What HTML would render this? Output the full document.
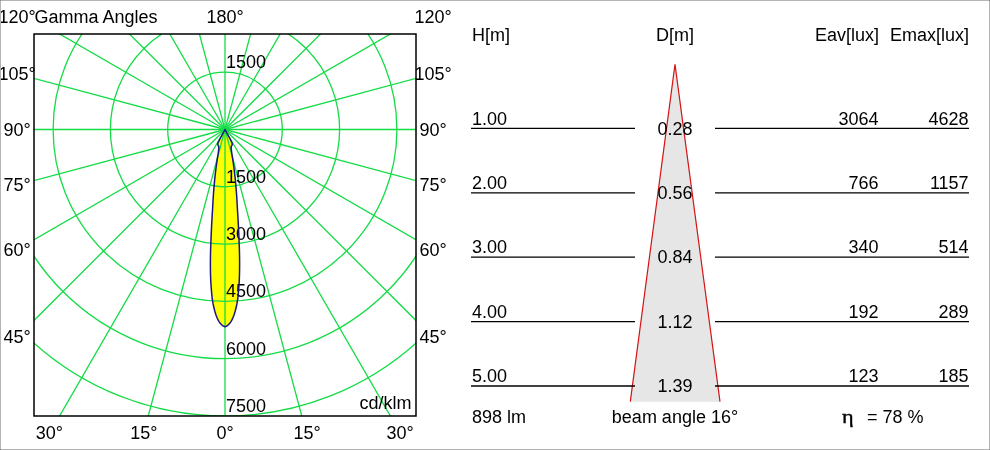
<!DOCTYPE html>
<html><head><meta charset="utf-8"><style>
html,body{margin:0;padding:0;background:#fff;}
#w{position:relative;width:990px;height:450px;overflow:hidden;}
svg{position:absolute;left:0;top:0;will-change:transform;}
text{fill:#000;}
</style></head><body><div id="w"><svg width="990" height="450" viewBox="0 0 990 450">
<clipPath id="c"><rect x="34" y="34" width="382" height="382"/></clipPath>
<path d="M225.00,129.50 L219.40,140.00 L218.61,141.67 L217.99,143.05 L217.86,143.51 L217.82,143.81 L217.79,144.08 L217.79,144.33 L217.80,144.54 L217.82,144.73 L217.86,144.90 L217.91,145.05 L217.97,145.18 L218.03,145.30 L218.10,145.41 L218.17,145.52 L218.24,145.62 L218.32,145.72 L218.39,145.83 L218.47,145.94 L218.54,146.06 L218.60,146.20 L218.66,146.35 L218.72,146.52 L218.77,146.72 L218.81,146.95 L218.84,147.20 L218.86,147.50 L218.85,147.90 L218.82,148.39 L218.76,148.96 L218.69,149.62 L218.60,150.35 L218.51,151.15 L218.40,152.01 L218.26,153.03 L218.05,154.32 L217.81,155.81 L217.54,157.48 L217.26,159.28 L216.97,161.19 L216.68,163.24 L216.37,165.43 L216.06,167.77 L215.74,170.26 L215.43,172.91 L215.11,175.71 L214.79,178.67 L214.48,181.81 L214.18,185.11 L213.88,188.58 L213.59,192.23 L213.32,196.06 L213.07,200.07 L212.84,204.27 L212.58,208.99 L212.23,214.67 L211.85,221.05 L211.50,227.84 L211.17,235.05 L210.83,243.16 L210.55,251.60 L210.40,259.72 L210.40,267.46 L210.52,274.95 L210.79,281.78 L211.22,287.82 L211.72,293.82 L212.33,299.48 L213.08,303.96 L213.93,307.82 L214.85,311.22 L215.82,314.42 L216.84,317.29 L217.92,319.67 L219.04,321.58 L220.19,323.25 L221.37,324.58 L222.57,325.53 L223.78,326.25 L225.00,326.70 L226.22,326.25 L227.43,325.53 L228.63,324.58 L229.81,323.25 L230.96,321.58 L232.08,319.67 L233.16,317.29 L234.18,314.42 L235.15,311.22 L236.07,307.82 L236.92,303.96 L237.67,299.48 L238.28,293.82 L238.78,287.82 L239.21,281.78 L239.48,274.95 L239.60,267.46 L239.60,259.72 L239.45,251.60 L239.17,243.16 L238.83,235.05 L238.50,227.84 L238.15,221.05 L237.77,214.67 L237.42,208.99 L237.16,204.27 L236.93,200.07 L236.68,196.06 L236.41,192.23 L236.12,188.58 L235.82,185.11 L235.52,181.81 L235.21,178.67 L234.89,175.71 L234.57,172.91 L234.26,170.26 L233.94,167.77 L233.63,165.43 L233.32,163.24 L233.03,161.19 L232.74,159.28 L232.46,157.48 L232.19,155.81 L231.95,154.32 L231.74,153.03 L231.60,152.01 L231.49,151.15 L231.40,150.35 L231.31,149.62 L231.24,148.96 L231.18,148.39 L231.15,147.90 L231.14,147.50 L231.16,147.20 L231.19,146.95 L231.23,146.72 L231.28,146.52 L231.34,146.35 L231.40,146.20 L231.46,146.06 L231.53,145.94 L231.61,145.83 L231.68,145.72 L231.76,145.62 L231.83,145.52 L231.90,145.41 L231.97,145.30 L232.03,145.18 L232.09,145.05 L232.14,144.90 L232.18,144.73 L232.20,144.54 L232.21,144.33 L232.21,144.08 L232.18,143.81 L232.14,143.51 L232.01,143.05 L231.39,141.67 L230.60,140.00 Z" fill="#ffff00" stroke="none"/>
<g clip-path="url(#c)" stroke="#14dc46" stroke-width="1.3" fill="none">
<circle cx="225.0" cy="129.5" r="57.30"/>
<circle cx="225.0" cy="129.5" r="114.60"/>
<circle cx="225.0" cy="129.5" r="171.90"/>
<circle cx="225.0" cy="129.5" r="229.20"/>
<circle cx="225.0" cy="129.5" r="286.50"/>
<line x1="225.0" y1="129.5" x2="225.00" y2="729.50"/>
<line x1="225.0" y1="129.5" x2="380.29" y2="709.06"/>
<line x1="225.0" y1="129.5" x2="525.00" y2="649.12"/>
<line x1="225.0" y1="129.5" x2="649.26" y2="553.76"/>
<line x1="225.0" y1="129.5" x2="744.62" y2="429.50"/>
<line x1="225.0" y1="129.5" x2="804.56" y2="284.79"/>
<line x1="225.0" y1="129.5" x2="825.00" y2="129.50"/>
<line x1="225.0" y1="129.5" x2="804.56" y2="-25.79"/>
<line x1="225.0" y1="129.5" x2="744.62" y2="-170.50"/>
<line x1="225.0" y1="129.5" x2="649.26" y2="-294.76"/>
<line x1="225.0" y1="129.5" x2="525.00" y2="-390.12"/>
<line x1="225.0" y1="129.5" x2="380.29" y2="-450.06"/>
<line x1="225.0" y1="129.5" x2="225.00" y2="-470.50"/>
<line x1="225.0" y1="129.5" x2="69.71" y2="-450.06"/>
<line x1="225.0" y1="129.5" x2="-75.00" y2="-390.12"/>
<line x1="225.0" y1="129.5" x2="-199.26" y2="-294.76"/>
<line x1="225.0" y1="129.5" x2="-294.62" y2="-170.50"/>
<line x1="225.0" y1="129.5" x2="-354.56" y2="-25.79"/>
<line x1="225.0" y1="129.5" x2="-375.00" y2="129.50"/>
<line x1="225.0" y1="129.5" x2="-354.56" y2="284.79"/>
<line x1="225.0" y1="129.5" x2="-294.62" y2="429.50"/>
<line x1="225.0" y1="129.5" x2="-199.26" y2="553.76"/>
<line x1="225.0" y1="129.5" x2="-75.00" y2="649.12"/>
<line x1="225.0" y1="129.5" x2="69.71" y2="709.06"/>
</g>
<rect x="34" y="34" width="382" height="382" fill="none" stroke="#000" stroke-width="1.5"/>
<text x="17" y="23" text-anchor="middle" font-size="18" font-family='"Liberation Sans", sans-serif' >120°</text>
<text x="34.4" y="23" text-anchor="start" font-size="18" font-family='"Liberation Sans", sans-serif' >Gamma Angles</text>
<text x="225" y="23" text-anchor="middle" font-size="18" font-family='"Liberation Sans", sans-serif' >180°</text>
<text x="433" y="23" text-anchor="middle" font-size="18" font-family='"Liberation Sans", sans-serif' >120°</text>
<text x="17" y="80" text-anchor="middle" font-size="18" font-family='"Liberation Sans", sans-serif' >105°</text>
<text x="433" y="80" text-anchor="middle" font-size="18" font-family='"Liberation Sans", sans-serif' >105°</text>
<text x="17" y="135.5" text-anchor="middle" font-size="18" font-family='"Liberation Sans", sans-serif' >90°</text>
<text x="433" y="135.5" text-anchor="middle" font-size="18" font-family='"Liberation Sans", sans-serif' >90°</text>
<text x="17" y="191" text-anchor="middle" font-size="18" font-family='"Liberation Sans", sans-serif' >75°</text>
<text x="433" y="191" text-anchor="middle" font-size="18" font-family='"Liberation Sans", sans-serif' >75°</text>
<text x="17" y="255.5" text-anchor="middle" font-size="18" font-family='"Liberation Sans", sans-serif' >60°</text>
<text x="433" y="255.5" text-anchor="middle" font-size="18" font-family='"Liberation Sans", sans-serif' >60°</text>
<text x="17" y="343.3" text-anchor="middle" font-size="18" font-family='"Liberation Sans", sans-serif' >45°</text>
<text x="433" y="343.3" text-anchor="middle" font-size="18" font-family='"Liberation Sans", sans-serif' >45°</text>
<text x="49.3" y="439" text-anchor="middle" font-size="18" font-family='"Liberation Sans", sans-serif' >30°</text>
<text x="143.8" y="439" text-anchor="middle" font-size="18" font-family='"Liberation Sans", sans-serif' >15°</text>
<text x="225" y="439" text-anchor="middle" font-size="18" font-family='"Liberation Sans", sans-serif' >0°</text>
<text x="307" y="439" text-anchor="middle" font-size="18" font-family='"Liberation Sans", sans-serif' >15°</text>
<text x="400" y="439" text-anchor="middle" font-size="18" font-family='"Liberation Sans", sans-serif' >30°</text>
<text x="226" y="68" text-anchor="start" font-size="18" font-family='"Liberation Sans", sans-serif' >1500</text>
<text x="226" y="182.6" text-anchor="start" font-size="18" font-family='"Liberation Sans", sans-serif' >1500</text>
<text x="226" y="239.8" text-anchor="start" font-size="18" font-family='"Liberation Sans", sans-serif' >3000</text>
<text x="226" y="297" text-anchor="start" font-size="18" font-family='"Liberation Sans", sans-serif' >4500</text>
<text x="226" y="355" text-anchor="start" font-size="18" font-family='"Liberation Sans", sans-serif' >6000</text>
<text x="226" y="412" text-anchor="start" font-size="18" font-family='"Liberation Sans", sans-serif' >7500</text>
<text x="411.6" y="408.7" text-anchor="end" font-size="18" font-family='"Liberation Sans", sans-serif' >cd/klm</text>
<path d="M225.00,129.50 L219.40,140.00 L218.61,141.67 L217.99,143.05 L217.86,143.51 L217.82,143.81 L217.79,144.08 L217.79,144.33 L217.80,144.54 L217.82,144.73 L217.86,144.90 L217.91,145.05 L217.97,145.18 L218.03,145.30 L218.10,145.41 L218.17,145.52 L218.24,145.62 L218.32,145.72 L218.39,145.83 L218.47,145.94 L218.54,146.06 L218.60,146.20 L218.66,146.35 L218.72,146.52 L218.77,146.72 L218.81,146.95 L218.84,147.20 L218.86,147.50 L218.85,147.90 L218.82,148.39 L218.76,148.96 L218.69,149.62 L218.60,150.35 L218.51,151.15 L218.40,152.01 L218.26,153.03 L218.05,154.32 L217.81,155.81 L217.54,157.48 L217.26,159.28 L216.97,161.19 L216.68,163.24 L216.37,165.43 L216.06,167.77 L215.74,170.26 L215.43,172.91 L215.11,175.71 L214.79,178.67 L214.48,181.81 L214.18,185.11 L213.88,188.58 L213.59,192.23 L213.32,196.06 L213.07,200.07 L212.84,204.27 L212.58,208.99 L212.23,214.67 L211.85,221.05 L211.50,227.84 L211.17,235.05 L210.83,243.16 L210.55,251.60 L210.40,259.72 L210.40,267.46 L210.52,274.95 L210.79,281.78 L211.22,287.82 L211.72,293.82 L212.33,299.48 L213.08,303.96 L213.93,307.82 L214.85,311.22 L215.82,314.42 L216.84,317.29 L217.92,319.67 L219.04,321.58 L220.19,323.25 L221.37,324.58 L222.57,325.53 L223.78,326.25 L225.00,326.70 L226.22,326.25 L227.43,325.53 L228.63,324.58 L229.81,323.25 L230.96,321.58 L232.08,319.67 L233.16,317.29 L234.18,314.42 L235.15,311.22 L236.07,307.82 L236.92,303.96 L237.67,299.48 L238.28,293.82 L238.78,287.82 L239.21,281.78 L239.48,274.95 L239.60,267.46 L239.60,259.72 L239.45,251.60 L239.17,243.16 L238.83,235.05 L238.50,227.84 L238.15,221.05 L237.77,214.67 L237.42,208.99 L237.16,204.27 L236.93,200.07 L236.68,196.06 L236.41,192.23 L236.12,188.58 L235.82,185.11 L235.52,181.81 L235.21,178.67 L234.89,175.71 L234.57,172.91 L234.26,170.26 L233.94,167.77 L233.63,165.43 L233.32,163.24 L233.03,161.19 L232.74,159.28 L232.46,157.48 L232.19,155.81 L231.95,154.32 L231.74,153.03 L231.60,152.01 L231.49,151.15 L231.40,150.35 L231.31,149.62 L231.24,148.96 L231.18,148.39 L231.15,147.90 L231.14,147.50 L231.16,147.20 L231.19,146.95 L231.23,146.72 L231.28,146.52 L231.34,146.35 L231.40,146.20 L231.46,146.06 L231.53,145.94 L231.61,145.83 L231.68,145.72 L231.76,145.62 L231.83,145.52 L231.90,145.41 L231.97,145.30 L232.03,145.18 L232.09,145.05 L232.14,144.90 L232.18,144.73 L232.20,144.54 L232.21,144.33 L232.21,144.08 L232.18,143.81 L232.14,143.51 L232.01,143.05 L231.39,141.67 L230.60,140.00 Z" fill="none" stroke="#1c1480" stroke-width="1.5" stroke-linejoin="round"/>
<text x="472" y="40.7" text-anchor="start" font-size="18" font-family='"Liberation Sans", sans-serif' >H[m]</text>
<text x="675" y="40.7" text-anchor="middle" font-size="18" font-family='"Liberation Sans", sans-serif' >D[m]</text>
<text x="879" y="40.7" text-anchor="end" font-size="18" font-family='"Liberation Sans", sans-serif' >Eav[lux]</text>
<text x="969" y="40.7" text-anchor="end" font-size="18" font-family='"Liberation Sans", sans-serif' >Emax[lux]</text>
<path d="M630.3,401.7 L675,64.3 L720,401.7 Z" fill="#e6e6e6" stroke="none"/>
<path d="M630.3,401.7 L675,64.3 L720,401.7" fill="none" stroke="#d41414" stroke-width="1.2"/>
<line x1="471" y1="128.40" x2="635" y2="128.40" stroke="#000" stroke-width="1.3"/>
<line x1="715" y1="128.40" x2="969" y2="128.40" stroke="#000" stroke-width="1.3"/>
<text x="472" y="124.50" text-anchor="start" font-size="18" font-family='"Liberation Sans", sans-serif' >1.00</text>
<text x="675" y="134.50" text-anchor="middle" font-size="18" font-family='"Liberation Sans", sans-serif' >0.28</text>
<text x="878.6" y="124.50" text-anchor="end" font-size="18" font-family='"Liberation Sans", sans-serif' >3064</text>
<text x="968.6" y="124.50" text-anchor="end" font-size="18" font-family='"Liberation Sans", sans-serif' >4628</text>
<line x1="471" y1="192.80" x2="635" y2="192.80" stroke="#000" stroke-width="1.3"/>
<line x1="715" y1="192.80" x2="969" y2="192.80" stroke="#000" stroke-width="1.3"/>
<text x="472" y="188.90" text-anchor="start" font-size="18" font-family='"Liberation Sans", sans-serif' >2.00</text>
<text x="675" y="198.90" text-anchor="middle" font-size="18" font-family='"Liberation Sans", sans-serif' >0.56</text>
<text x="878.6" y="188.90" text-anchor="end" font-size="18" font-family='"Liberation Sans", sans-serif' >766</text>
<text x="968.6" y="188.90" text-anchor="end" font-size="18" font-family='"Liberation Sans", sans-serif' >1157</text>
<line x1="471" y1="257.20" x2="635" y2="257.20" stroke="#000" stroke-width="1.3"/>
<line x1="715" y1="257.20" x2="969" y2="257.20" stroke="#000" stroke-width="1.3"/>
<text x="472" y="253.30" text-anchor="start" font-size="18" font-family='"Liberation Sans", sans-serif' >3.00</text>
<text x="675" y="263.30" text-anchor="middle" font-size="18" font-family='"Liberation Sans", sans-serif' >0.84</text>
<text x="878.6" y="253.30" text-anchor="end" font-size="18" font-family='"Liberation Sans", sans-serif' >340</text>
<text x="968.6" y="253.30" text-anchor="end" font-size="18" font-family='"Liberation Sans", sans-serif' >514</text>
<line x1="471" y1="321.60" x2="635" y2="321.60" stroke="#000" stroke-width="1.3"/>
<line x1="715" y1="321.60" x2="969" y2="321.60" stroke="#000" stroke-width="1.3"/>
<text x="472" y="317.70" text-anchor="start" font-size="18" font-family='"Liberation Sans", sans-serif' >4.00</text>
<text x="675" y="327.70" text-anchor="middle" font-size="18" font-family='"Liberation Sans", sans-serif' >1.12</text>
<text x="878.6" y="317.70" text-anchor="end" font-size="18" font-family='"Liberation Sans", sans-serif' >192</text>
<text x="968.6" y="317.70" text-anchor="end" font-size="18" font-family='"Liberation Sans", sans-serif' >289</text>
<line x1="471" y1="386.00" x2="635" y2="386.00" stroke="#000" stroke-width="1.3"/>
<line x1="715" y1="386.00" x2="969" y2="386.00" stroke="#000" stroke-width="1.3"/>
<text x="472" y="382.10" text-anchor="start" font-size="18" font-family='"Liberation Sans", sans-serif' >5.00</text>
<text x="675" y="392.10" text-anchor="middle" font-size="18" font-family='"Liberation Sans", sans-serif' >1.39</text>
<text x="878.6" y="382.10" text-anchor="end" font-size="18" font-family='"Liberation Sans", sans-serif' >123</text>
<text x="968.6" y="382.10" text-anchor="end" font-size="18" font-family='"Liberation Sans", sans-serif' >185</text>
<text x="472" y="423" text-anchor="start" font-size="18" font-family='"Liberation Sans", sans-serif' >898 lm</text>
<text x="675" y="423" text-anchor="middle" font-size="18" font-family='"Liberation Sans", sans-serif' >beam angle 16°</text>
<g transform="translate(842 0) scale(1.2 1) translate(-842 0)">
<text x="842.0" y="422.9" text-anchor="start" font-size="18.5" font-family='"Liberation Serif", serif' stroke="#000" stroke-width="0.35">η</text>
</g>
<text x="867" y="423" text-anchor="start" font-size="18" font-family='"Liberation Sans", sans-serif' >= 78 %</text>
<rect x="0.5" y="0.5" width="989" height="449" fill="none" stroke="#b4b4b4" stroke-width="1"/>
<rect x="0" y="0" width="1" height="1" fill="#8c8c8c"/>
<rect x="989" y="0" width="1" height="1" fill="#8c8c8c"/>
<rect x="0" y="449" width="1" height="1" fill="#8c8c8c"/>
<rect x="989" y="449" width="1" height="1" fill="#8c8c8c"/>
</svg></div></body></html>
